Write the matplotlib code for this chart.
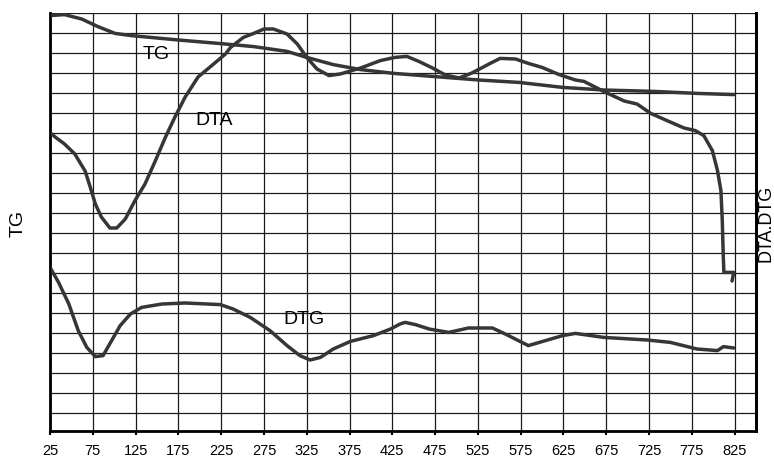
import matplotlib.pyplot as plt
import numpy as np

# thermal analysis traces, temperature in deg C, signal in chart divisions
tg_t = [25, 42, 62, 81, 101, 120, 175, 230, 263, 302, 325, 356, 388, 427, 475,
        526, 573, 624, 672, 731, 781, 824]
tg_v = [19.87, 19.92, 19.7, 19.32, 18.98, 18.87, 18.65, 18.45, 18.32, 18.08, 17.78,
        17.42, 17.17, 16.98, 16.82, 16.65, 16.53, 16.28, 16.15, 16.08, 15.98, 15.92]

dta_t = [25, 31, 42, 54, 66, 72, 78, 85, 95, 103, 113, 124, 136, 148, 160, 171,
         183, 198, 214, 230, 236, 251, 263, 275, 286, 302, 314, 325, 337, 351, 364,
         388, 411, 428, 442, 456, 472, 487, 503, 518, 538, 551, 569, 584, 600, 620,
         639, 649, 672, 696, 711, 727, 746, 766, 779, 789, 799, 805, 809, 810.6,
         811.8, 812.5, 824, 822]
dta_v = [14.03, 13.8, 13.45, 12.95, 12.1, 11.3, 10.45, 9.8, 9.25, 9.25, 9.7, 10.6,
         11.45, 12.6, 13.8, 14.8, 15.8, 16.8, 17.37, 17.95, 18.28, 18.78, 18.98,
         19.2, 19.2, 18.95, 18.45, 17.78, 17.2, 16.87, 16.95, 17.25, 17.62, 17.78,
         17.83, 17.58, 17.25, 16.9, 16.75, 17.0, 17.45, 17.73, 17.7, 17.48, 17.28,
         16.92, 16.65, 16.58, 16.08, 15.6, 15.45, 14.98, 14.62, 14.25, 14.12, 13.87,
         13.12, 12.12, 11.12, 9.62, 7.78, 7.03, 7.03, 6.6]

dtg_t = [25, 35, 47, 58, 68, 78, 87, 97, 107, 119, 132, 156, 183, 224, 239, 259,
         282, 302, 317, 329, 341, 356, 376, 403, 423, 434, 440, 452, 468, 491, 514,
         542, 557, 584, 604, 624, 639, 672, 723, 750, 781, 805, 812, 824]
dtg_v = [7.28, 6.53, 5.45, 4.12, 3.28, 2.82, 2.87, 3.62, 4.37, 4.95, 5.28, 5.45,
         5.5, 5.42, 5.2, 4.78, 4.12, 3.37, 2.87, 2.65, 2.78, 3.2, 3.58, 3.87, 4.2,
         4.45, 4.53, 4.42, 4.2, 4.03, 4.25, 4.25, 3.95, 3.37, 3.62, 3.87, 3.98, 3.78,
         3.65, 3.53, 3.2, 3.12, 3.32, 3.25]

x_ticks = np.arange(25, 826, 50)
curve_color = '#363636'

plt.rcParams['font.family'] = ['Liberation Sans', 'DejaVu Sans']

fig = plt.figure(figsize=(7.74, 4.6), dpi=100)
ax = fig.add_axes([50 / 774, 28 / 460, 706 / 774, 418 / 460])

ax.set_xlim(25, 850)
ax.set_ylim(-0.9, 20)

# chart-paper grid
for xv in x_ticks:
    ax.axvline(xv, color='#1a1a1a', lw=0.9, zorder=1)
for yv in range(0, 21):
    ax.axhline(yv, color='#1a1a1a', lw=0.9, zorder=1)

line_kw = dict(color=curve_color, lw=2.5, solid_capstyle='round',
               solid_joinstyle='round', zorder=3)
ax.plot(tg_t, tg_v, **line_kw)
ax.plot(dta_t, dta_v, **line_kw)
ax.plot(dtg_t, dtg_v, **line_kw)

ax.text(149, 17.97, 'TG', fontsize=14, ha='center', va='center', zorder=4)
ax.text(217, 14.68, 'DTA', fontsize=14, ha='center', va='center', zorder=4)
ax.text(322, 4.7, 'DTG', fontsize=14, ha='center', va='center', zorder=4)

ax.set_xticks(x_ticks)
ax.set_xticklabels([str(v) for v in x_ticks], fontsize=10.5)
ax.tick_params(axis='x', direction='out', length=3, width=1.5, pad=6)
ax.set_yticks([])

for side in ['left', 'bottom', 'right']:
    ax.spines[side].set_linewidth(2)
    ax.spines[side].set_color('black')
ax.spines['top'].set_visible(False)

ax.set_ylabel('TG', fontsize=14, labelpad=17)

ax2 = ax.twinx()
ax2.set_ylim(ax.get_ylim())
ax2.set_yticks([])
ax2.spines['top'].set_visible(False)
ax2.spines['right'].set_linewidth(2)
ax2.set_ylabel('DTA.DTG', fontsize=13, labelpad=1)

fig.savefig('out.png', dpi=100)
